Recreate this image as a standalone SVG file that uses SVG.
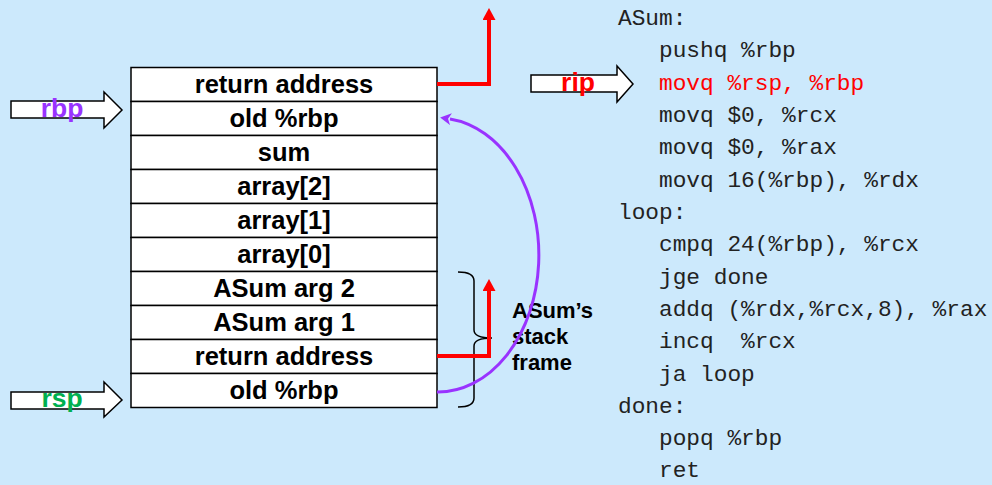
<svg xmlns="http://www.w3.org/2000/svg" width="992" height="485" viewBox="0 0 992 485">
<defs>
<style>
.cell{fill:#fff;stroke:#000;stroke-width:1.5}
.ct{font-family:"Liberation Sans",Arial,sans-serif;font-weight:bold;font-size:25.5px;fill:#000;text-anchor:middle}
.reg{font-family:"Liberation Sans",Arial,sans-serif;font-weight:bold;font-size:26.5px;text-anchor:middle}
.blk{fill:#fff;stroke:#000;stroke-width:1.5;stroke-linejoin:miter}
.code{font-family:"Liberation Mono","Courier New",monospace;font-size:22.8px;fill:#222}
.red{stroke:#ff0000;stroke-width:4;fill:none}
.lbl{font-family:"Liberation Sans",Arial,sans-serif;font-weight:bold;font-size:22px;fill:#000}
</style>
<marker id="ar" markerUnits="userSpaceOnUse" markerWidth="12" markerHeight="13" viewBox="0 0 12 13" refX="0" refY="6.5" orient="auto">
<path d="M0,0 L12,6.5 L0,13 z" fill="#ff0000"/>
</marker>
<marker id="ap" markerUnits="userSpaceOnUse" markerWidth="11" markerHeight="12" viewBox="0 0 11 12" refX="1" refY="6" orient="auto">
<path d="M0,0 L11,6 L0,12 L3,6 z" fill="#9933ff"/>
</marker>
</defs>
<rect width="992" height="485" fill="#cce9fc"/>

<g id="stack">
<g id="cell0"><rect class="cell" x="131" y="67.5" width="306" height="34"/><text class="ct" x="284" y="93">return address</text></g>
<g id="cell1"><rect class="cell" x="131" y="101.5" width="306" height="34"/><text class="ct" x="284" y="127">old %rbp</text></g>
<g id="cell2"><rect class="cell" x="131" y="135.5" width="306" height="34"/><text class="ct" x="284" y="161">sum</text></g>
<g id="cell3"><rect class="cell" x="131" y="169.5" width="306" height="34"/><text class="ct" x="284" y="195">array[2]</text></g>
<g id="cell4"><rect class="cell" x="131" y="203.5" width="306" height="34"/><text class="ct" x="284" y="229">array[1]</text></g>
<g id="cell5"><rect class="cell" x="131" y="237.5" width="306" height="34"/><text class="ct" x="284" y="263">array[0]</text></g>
<g id="cell6"><rect class="cell" x="131" y="271.5" width="306" height="34"/><text class="ct" x="284" y="297">ASum arg 2</text></g>
<g id="cell7"><rect class="cell" x="131" y="305.5" width="306" height="34"/><text class="ct" x="284" y="331">ASum arg 1</text></g>
<g id="cell8"><rect class="cell" x="131" y="339.5" width="306" height="34"/><text class="ct" x="284" y="365">return address</text></g>
<g id="cell9"><rect class="cell" x="131" y="373.5" width="306" height="34"/><text class="ct" x="284" y="399">old %rbp</text></g>
</g>

<g id="rbp"><polygon class="blk" points="11,101 104,101 104,92 122,110 104,128 104,118 11,118"/><text class="reg" x="62" y="117" fill="#9933ff">rbp</text></g>
<g id="rsp"><polygon class="blk" points="11,392 104,392 104,382 122,400 104,417 104,409 11,409"/><text class="reg" x="62" y="407" fill="#00b050">rsp</text></g>
<g id="rip"><polygon class="blk" points="531,75 617,75 617,66 633,84 617,102 617,92 531,92"/><text class="reg" x="578" y="91" fill="#ff0000">rip</text></g>

<g id="frame">
<path d="M458,272 Q474,272 474,281 L474,330 Q474,338 492,338 M492,338 Q474,338 474,346 L474,398 Q474,407 458,407" fill="none" stroke="#000" stroke-width="1.5"/>
<text class="lbl" x="512" y="318">ASum’s</text>
<text class="lbl" x="512" y="344">stack</text>
<text class="lbl" x="512" y="370">frame</text>
</g>

<g id="connectors">
<path class="red" d="M437,84 H489 V20" marker-end="url(#ar)"/>
<path class="red" d="M437,356 H489 V291" marker-end="url(#ar)"/>
<path d="M437,392 A101,137 0 0 0 450,119" fill="none" stroke="#9933ff" stroke-width="3" marker-end="url(#ap)"/>
</g>

<g id="code">
<text class="code" x="618" y="25">ASum:</text>
<text class="code" x="659" y="57">pushq %rbp</text>
<text class="code" x="659" y="90" style="fill:#ff0000">movq %rsp, %rbp</text>
<text class="code" x="659" y="122">movq $0, %rcx</text>
<text class="code" x="659" y="154">movq $0, %rax</text>
<text class="code" x="659" y="187">movq 16(%rbp), %rdx</text>
<text class="code" x="618" y="219">loop:</text>
<text class="code" x="659" y="251">cmpq 24(%rbp), %rcx</text>
<text class="code" x="659" y="284">jge done</text>
<text class="code" x="659" y="316">addq (%rdx,%rcx,8), %rax</text>
<text class="code" x="659" y="348" xml:space="preserve">incq  %rcx</text>
<text class="code" x="659" y="381">ja loop</text>
<text class="code" x="618" y="413">done:</text>
<text class="code" x="659" y="445">popq %rbp</text>
<text class="code" x="659" y="477">ret</text>
</g>
</svg>
